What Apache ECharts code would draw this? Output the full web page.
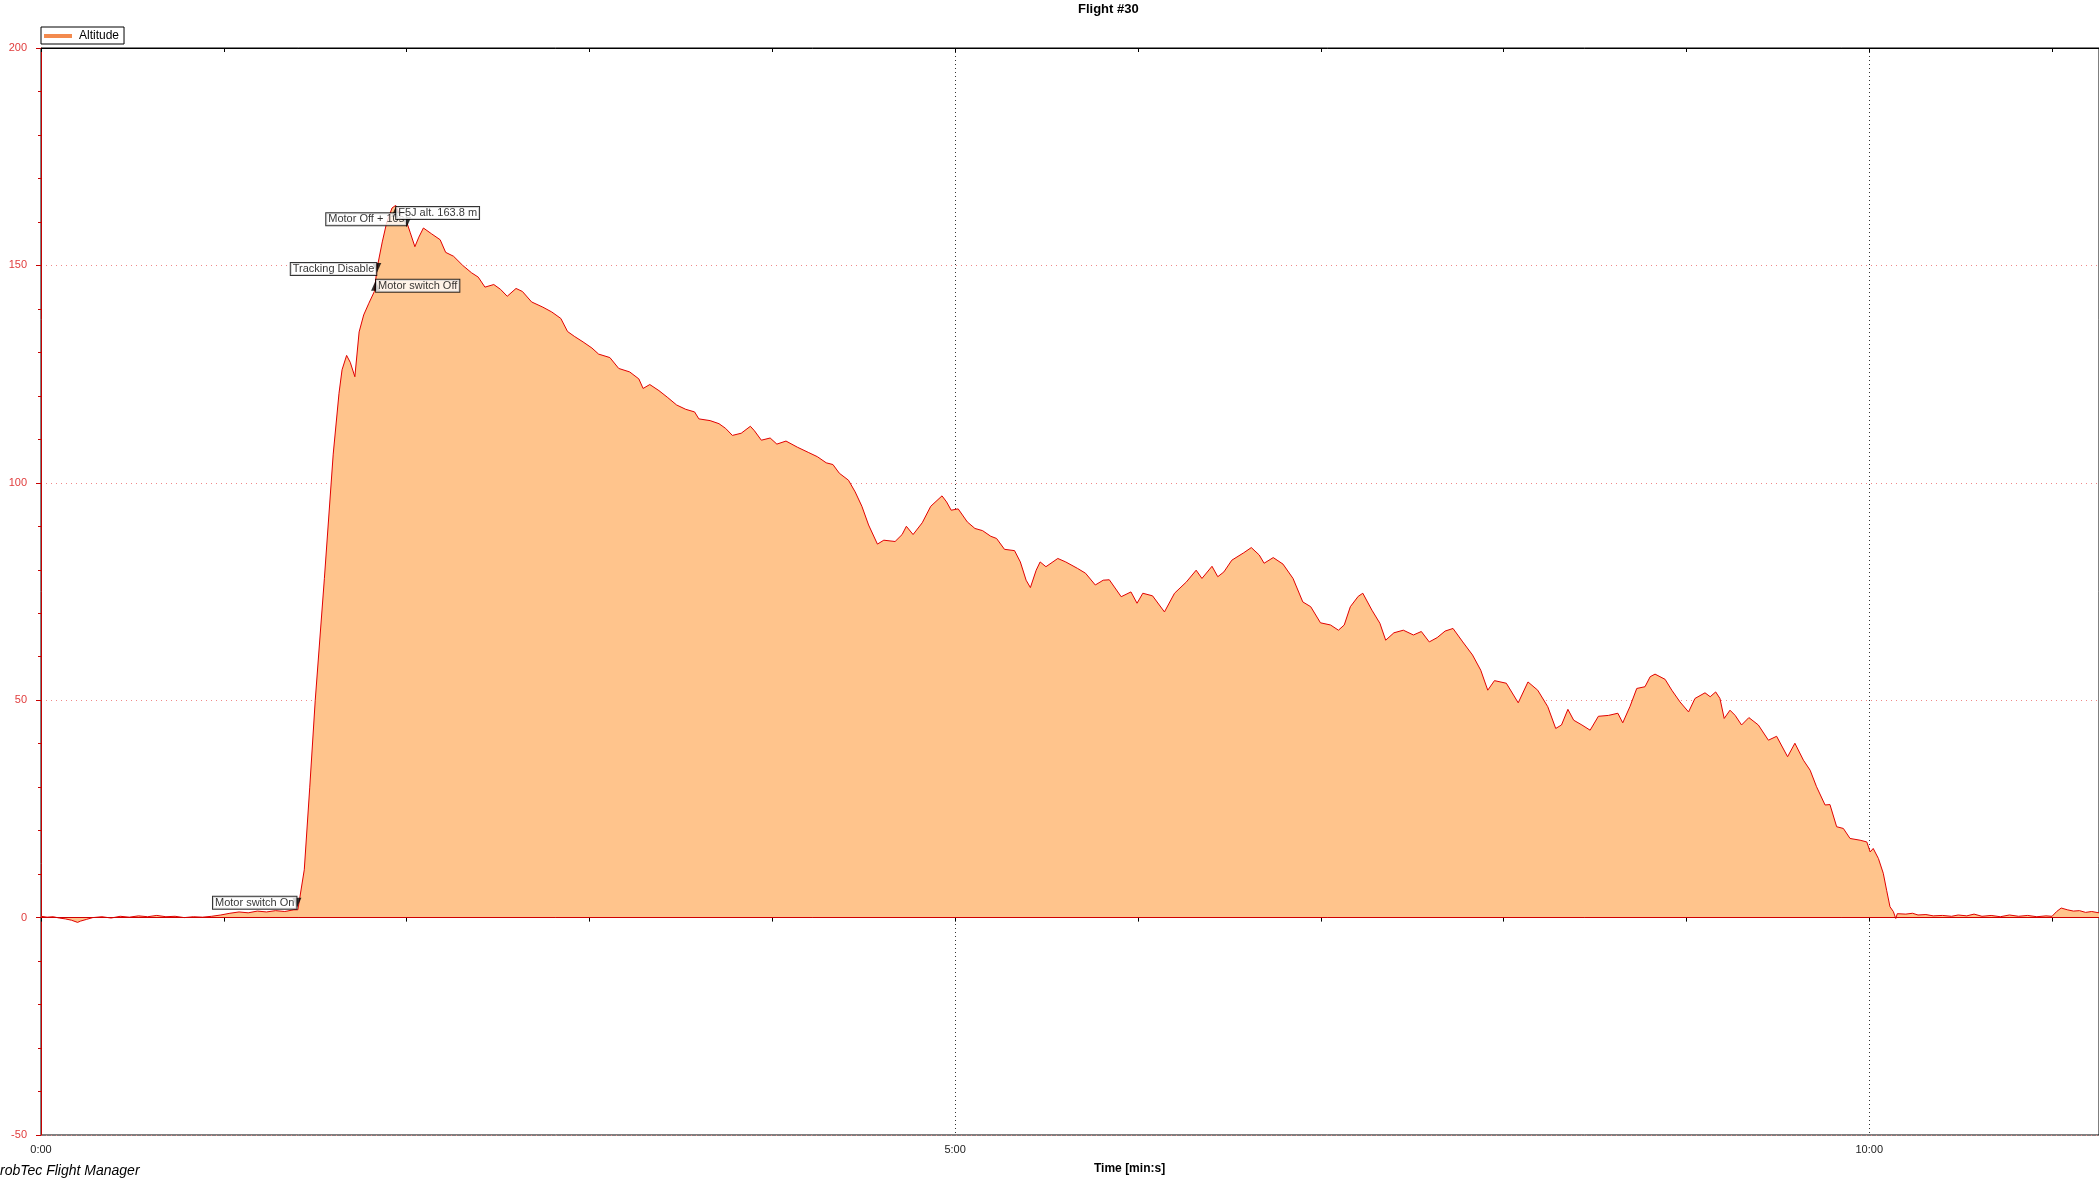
<!DOCTYPE html>
<html>
<head>
<meta charset="utf-8">
<script src="https://cdn.jsdelivr.net/npm/echarts@6/dist/echarts.min.js"></script>
<style>
html,body{margin:0;padding:0;background:#fff;}
#chart{width:2099px;height:1181px;}
</style>
</head>
<body>
<div id="chart"></div>
<script>
// ---- data (time in seconds, altitude in m) ----
const times = [
0,2,4,6,8,10,12,13,15,17,20,23,26,29,32,35,38,41,44,47,50,53,56,59,62,65,68,71,74,77,80,83,84.3,86.4,88.2,90,93,95.9,97.8,98.8,
100.3,101.5,103,104.4,105.9,107.6,109.4,110.3,112,113.4,115.2,116.4,117.6,120,121.2,122.7,124,125.5,128.1,131,132.8,135.4,138.4,141.3,143.5,145.7,148.6,150.8,153,155.9,
158,161,164.7,167.6,170.6,172.8,175,177.9,180.8,183,186.7,189.6,193.2,196.2,197.6,199.8,202.8,205.7,208.6,211.6,214.5,215.9,219.6,222.5,224.7,226.9,229.8,232.8,234.1,236.4,
239.3,241.5,244.5,248.2,251.8,254.8,257.7,259.9,262,265,267.2,269.4,271.6,274.5,276.6,280.3,282.6,284,286.2,289.2,292,295.7,297.2,298.7,301,304,306.5,309,311.7,313.6,
316.2,319.5,321.4,323.3,324.7,326.6,327.9,329.8,333.7,336.3,340.2,342.8,346,348.6,350.6,354.5,357.7,359.7,361.6,364.8,368.7,372,375.9,379.1,381,384.3,386.2,388.2,390.8,394.7,
397.2,399.8,401.4,404.4,407.6,410.9,414.1,416.7,419.9,423.2,425.8,427.7,429.7,432.3,433.8,436.8,439.4,441.3,444,447.1,450.4,453,455.6,458.2,460.8,463.4,466.6,469.8,472.5,474.8,
477,480.9,484.8,488,491.2,494.5,497.1,499,501.1,503,505.7,508.4,511.1,514.4,517.5,519.1,521.5,523.7,526.4,528.1,529.7,533,535.2,537.9,540.7,542.8,546.1,547.8,549.6,551,
552.4,554.3,556,558.1,560.5,563.6,566.9,569.6,573.2,575.6,578.4,580.6,582.7,585.5,587.1,589.3,591.5,593.7,597,599.2,600.3,601.3,603,604.6,605.7,606.8,607.9,608.7,609.2,612,
614.2,616,618.6,621,624,627,629.2,632,634.4,637,640,643,646,649,652,655,658,660,661.5,663,665,667,669,671,673,675.4
];
const altitude = [
0.3,0.1,0.2,-0.1,-0.3,-0.6,-1.1,-0.8,-0.4,0.0,0.2,-0.1,0.3,0.1,0.4,0.2,0.5,0.2,0.3,0.0,0.2,0.1,0.3,0.6,1.0,1.3,1.1,1.5,1.3,1.6,1.4,1.8,1.8,11,30,50,78,106.6,120.6,126,
129.3,127.7,124.4,134.7,138.6,141.3,144,149.4,155.4,159.7,163.2,163.8,161.9,160,157.5,154.3,156.5,158.6,157.3,155.9,153,152.1,150,148.3,147.3,145,145.6,144.5,142.9,144.7,
144,141.6,140.4,139.3,137.8,134.8,133.7,132.4,131,129.6,128.8,126.3,125.5,123.9,121.7,122.6,121.2,119.6,117.9,116.9,116.3,114.7,114.3,113.6,112.5,110.9,111.4,113,112,109.8,
110.3,108.9,109.6,108.2,107,106,104.6,104.2,102.2,100.6,97.9,94.6,90.3,85.9,86.8,86.5,88.1,90,88.1,90.8,94.6,97,95.6,93.7,94,91,89.5,89,87.7,87.2,
84.7,84.4,81.8,77.6,75.9,79.9,81.8,80.7,82.6,81.8,80.3,79.2,76.5,77.6,77.7,73.8,74.9,72.3,74.6,74,70.3,74.6,77.2,79.9,78,80.8,78.4,79.5,82.2,83.9,
85.1,83.4,81.5,82.8,81.3,78,72.6,71.5,67.8,67.3,66.1,67.3,71.5,73.9,74.6,70.7,67.7,63.8,65.5,66.1,65,65.8,63.4,64.4,65.9,66.5,63.4,60.4,56.9,52.3,
54.5,53.9,49.4,54.2,52.3,48.5,43.5,44.3,47.9,45.4,44.3,43.1,46.3,46.5,47,44.8,48.6,52.7,53.1,55.4,56,54.8,52.3,49.6,47.3,50.4,51.7,50.8,51.9,50.4,
45.8,47.7,46.5,44.3,46,44.3,40.8,41.7,37,40.1,36.2,33.9,30.1,25.9,26,20.9,20.5,18.2,17.8,17.4,15.1,15.9,13.6,10.2,6.3,2.5,1.4,-0.2,0.9,0.8,
1.0,0.6,0.7,0.4,0.5,0.3,0.6,0.4,0.8,0.3,0.5,0.2,0.6,0.3,0.5,0.2,0.4,0.3,1.4,2.2,1.8,1.5,1.6,1.2,1.4,1.1
];
const eventNames = ['Motor switch On','Tracking Disable','Motor switch Off','Motor Off + 10s','F5J alt. 163.8 m'];
const eventTimes = [84, 110.2, 109.8, 120, 116.4];
const eventAlt = [3.4, 149.4, 145.3, 159.9, 162.3];
const xTickSeconds = [0, 300, 600];
const yRange = [-50, 200];

// ---- chart ----
const FONT = '"Liberation Sans", Arial, sans-serif';
const chart = echarts.init(document.getElementById('chart'), null, {renderer: 'canvas'});
const XMAX = 675.4;
function fmtTime(v) {
  const m = Math.floor(v / 60), s = Math.round(v - m * 60);
  return m + ':' + (s < 10 ? '0' : '') + s;
}
const lineData = times.map((t, i) => [t, altitude[i]]);
const downIdx = {0: true, 1: true, 3: true};
const labelPos = ['left', 'left', 'right', 'left', 'right'];
const labelOff = [[0, 0], [0, 1], [0, 0], [0, -3], [0, 1]];
const eventData = eventNames.map((n, i) => ({
  value: [eventTimes[i], eventAlt[i]],
  name: n,
  symbolRotate: downIdx[i] ? 180 : 0,
  label: {position: labelPos[i], offset: labelOff[i]}
}));

chart.setOption({
  animation: false,
  backgroundColor: '#fff',
  textStyle: {fontFamily: FONT},
  grid: {left: 41, top: 48, right: -2, bottom: 46, show: true, borderColor: '#000', borderWidth: 1, containLabel: false},
  legend: {
    left: 41, top: 27, padding: [3, 5, 2, 3], itemGap: 0, itemWidth: 28, itemHeight: 4,
    borderColor: '#000', borderWidth: 1, backgroundColor: '#fff',
    textStyle: {fontSize: 12, color: '#000', fontFamily: FONT, padding: [0, 0, 0, 2]},
    data: [{name: 'Altitude', icon: 'rect', itemStyle: {color: '#F38A4E'}}]
  },
  graphic: [
    {type: 'text', left: 1078, top: 3, style: {text: 'Flight #30', font: 'bold 13px ' + FONT, fill: '#000'}},
    {type: 'text', left: 1094, top: 1163, style: {text: 'Time [min:s]', font: 'bold 12px ' + FONT, fill: '#000'}},
    {type: 'text', left: 0, top: 1164, style: {text: 'robTec Flight Manager', font: 'italic 14px ' + FONT, fill: '#000'}}
  ],
  xAxis: [
    {
      type: 'value', min: 0, max: XMAX, interval: 60, position: 'bottom',
      axisLine: {show: true, lineStyle: {color: '#000', width: 1}},
      axisTick: {show: true, length: 4, lineStyle: {color: '#000'}},
      axisLabel: {
        interval: 0, fontSize: 11, color: '#222', margin: 9, fontFamily: FONT, showMaxLabel: false,
        formatter: v => (xTickSeconds.indexOf(v) >= 0 ? fmtTime(v) : '')
      },
      splitLine: {show: false}
    },
    {
      type: 'value', min: 0, max: XMAX, interval: 60, position: 'top',
      axisLine: {show: true, lineStyle: {color: '#000'}},
      axisTick: {show: true, inside: true, length: 4, lineStyle: {color: '#000'}},
      axisLabel: {show: false}, splitLine: {show: false}
    },
    {
      type: 'value', min: 0, max: XMAX, interval: 300, position: 'bottom',
      axisLine: {show: false}, axisTick: {show: false}, axisLabel: {show: false},
      splitLine: {show: true, lineStyle: {color: '#333', type: [1, 3], width: 1}}
    }
  ],
  yAxis: [{
    type: 'value', min: yRange[0], max: yRange[1], interval: 50, offset: 5,
    axisLine: {show: true, lineStyle: {color: '#C80000', width: 1}},
    axisTick: {show: true, length: 5, lineStyle: {color: '#C80000'}},
    minorTick: {show: true, splitNumber: 5, length: 3, lineStyle: {color: '#C80000'}},
    axisLabel: {fontSize: 11, color: '#E03C3C', margin: 9, fontFamily: FONT},
    splitLine: {show: true, lineStyle: {color: '#F08888', type: [1, 4], width: 1}},
    minorSplitLine: {show: false}
  }],
  series: [
    {
      name: 'Altitude', type: 'line', xAxisIndex: 0, yAxisIndex: 0,
      data: lineData, showSymbol: false, symbol: 'none', smooth: false,
      lineStyle: {color: '#E00000', width: 1},
      itemStyle: {color: '#E00000'},
      areaStyle: {color: '#FFC48C', opacity: 1},
      markLine: {
        silent: true, symbol: ['none', 'none'], label: {show: false},
        lineStyle: {color: '#D00000', type: 'solid', width: 1},
        data: [{yAxis: 0}]
      },
      z: 2
    },
    {
      name: 'events', type: 'scatter', xAxisIndex: 0, yAxisIndex: 0,
      data: eventData, symbol: 'triangle', symbolSize: [9, 10],
      itemStyle: {color: '#000'},
      label: {
        show: true, formatter: p => p.name, distance: -4,
        fontSize: 11, color: '#000', fontFamily: FONT,
        backgroundColor: '#fff', borderColor: '#000', borderWidth: 1, padding: [1, 2, 0, 2]
      },
      z: 5
    }
  ]
});
</script>
</body>
</html>
